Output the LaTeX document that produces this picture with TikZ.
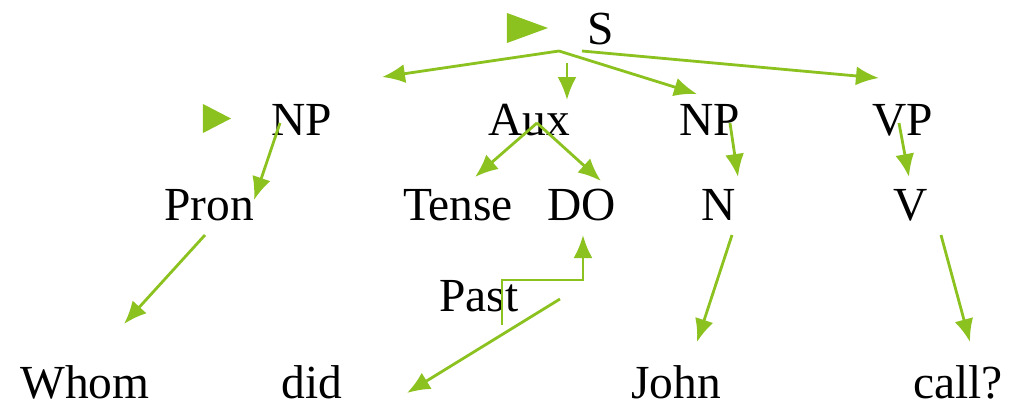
\documentclass[tikz,border=0pt]{standalone}
\usepackage{fontspec}
\setmainfont{Liberation Serif}
\usetikzlibrary{arrows.meta}
\definecolor{leaf}{RGB}{140,194,32}
\tikzset{word/.style={inner sep=0pt,anchor=base,font=\fontsize{13.5}{16}\selectfont},
  arr/.style={->,draw=leaf,line width=0.8pt}}
\begin{document}
\begin{tikzpicture}[>={Latex[length=2.3mm,width=1.9mm]},x=1cm,y=-1cm]
\useasboundingbox (0,0) rectangle (10.09,4.04);
\node (S) at (6.01,0.44)[word]{S};
\node (NPa) at (3.02,1.35)[word]{NP};
\node (Aux) at (5.29,1.35)[word]{Aux};
\node (NPb) at (7.10,1.35)[word]{NP};
\node (VP) at (9.03,1.35)[word]{VP};
\node (Pron) at (2.09,2.20)[word]{Pron};
\node (Tense) at (4.58,2.20)[word]{Tense};
\node (DO) at (5.82,2.20)[word]{DO};
\node (N) at (7.19,2.20)[word]{N};
\node (V) at (9.11,2.20)[word]{V};
\node (Past) at (4.79,3.11)[word]{Past};
\node (Whom) at (0.85,3.98)[word]{Whom};
\node (did) at (3.12,3.98)[word]{did};
\node (John) at (6.76,3.98)[word]{John};
\node (call) at (9.58,3.98)[word]{call?};

\fill[leaf] (5.07,0.13)--(5.48,0.28)--(5.07,0.43)--cycle;
\fill[leaf] (2.03,1.04)--(2.31,1.185)--(2.03,1.33)--cycle;

\coordinate (hub) at (5.59,0.51);
\coordinate (toNPa) at (3.82,0.77);
\coordinate (auxTop) at (5.67,0.63);
\coordinate (toAux) at (5.67,1.00);
\coordinate (toNPb) at (6.97,0.94);
\coordinate (vpStart) at (5.82,0.51);
\coordinate (toVP) at (8.79,0.78);
\coordinate (npaFoot) at (2.80,1.23);
\coordinate (toPron) at (2.54,2.00);
\coordinate (auxHub) at (5.37,1.23);
\coordinate (toTense) at (4.75,1.77);
\coordinate (toDO) at (6.01,1.81);
\coordinate (npbFoot) at (7.30,1.23);
\coordinate (toN) at (7.38,1.77);
\coordinate (vpFoot) at (8.99,1.23);
\coordinate (toV) at (9.09,1.77);
\coordinate (pronFoot) at (2.05,2.35);
\coordinate (toWhom) at (1.24,3.24);
\coordinate (nFoot) at (7.32,2.35);
\coordinate (toJohn) at (6.97,3.42);
\coordinate (vFoot) at (9.41,2.35);
\coordinate (toCall) at (9.70,3.42);
\coordinate (pastFoot) at (5.02,3.25);
\coordinate (pastBend) at (5.83,2.80);
\coordinate (doFoot) at (5.83,2.35);
\coordinate (didStart) at (5.60,2.99);
\coordinate (toDid) at (4.07,3.93);

\draw[arr] (hub)--(toNPa);
\draw[arr] (auxTop)--(toAux);
\draw[arr] (hub)--(toNPb);
\draw[arr] (vpStart)--(toVP);
\draw[arr] (npaFoot)--(toPron);
\draw[arr] (auxHub)--(toTense);
\draw[arr] (auxHub)--(toDO);
\draw[arr] (npbFoot)--(toN);
\draw[arr] (vpFoot)--(toV);
\draw[arr] (pronFoot)--(toWhom);
\draw[arr] (nFoot)--(toJohn);
\draw[arr] (vFoot)--(toCall);
\draw[arr] (pastFoot)|-(pastBend)--(doFoot);
\draw[arr] (didStart)--(toDid);
\end{tikzpicture}
\end{document}
